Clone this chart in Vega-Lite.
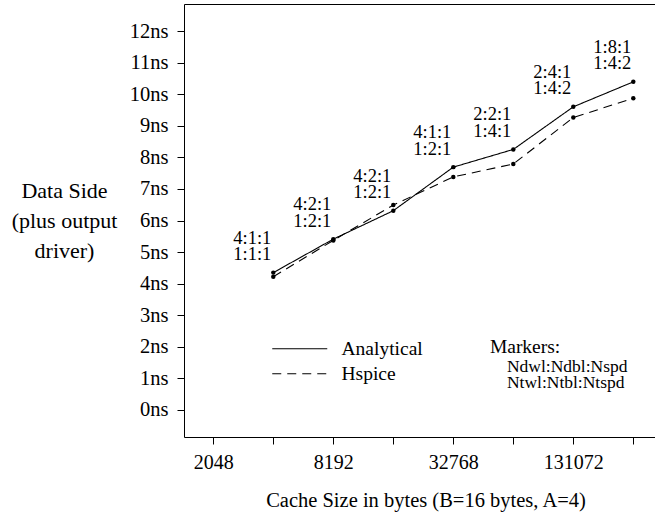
{
  "$schema": "https://vega.github.io/schema/vega-lite/v6.json",
  "width": 471,
  "height": 433,
  "autosize": {"type": "none"},
  "padding": {"left": 184, "top": 4, "right": 0, "bottom": 81},
  "background": "white",
  "config": {
    "view": {"stroke": null},
    "font": "Liberation Serif",
    "axis": {
      "domainColor": "black",
      "tickColor": "black",
      "labelColor": "black",
      "titleColor": "black",
      "labelFont": "Liberation Serif",
      "titleFont": "Liberation Serif",
      "titleFontWeight": "normal",
      "grid": false,
      "tickSize": 7
    },
    "legend": {
      "labelFont": "Liberation Serif",
      "labelColor": "black"
    }
  },
  "datasets": {
    "timing": [
      {"bytes": 4096, "series": "Analytical", "ns": 4.35},
      {"bytes": 8192, "series": "Analytical", "ns": 5.41},
      {"bytes": 16384, "series": "Analytical", "ns": 6.31},
      {"bytes": 32768, "series": "Analytical", "ns": 7.69},
      {"bytes": 65536, "series": "Analytical", "ns": 8.25},
      {"bytes": 131072, "series": "Analytical", "ns": 9.6},
      {"bytes": 262144, "series": "Analytical", "ns": 10.39},
      {"bytes": 4096, "series": "Hspice", "ns": 4.22},
      {"bytes": 8192, "series": "Hspice", "ns": 5.37},
      {"bytes": 16384, "series": "Hspice", "ns": 6.49},
      {"bytes": 32768, "series": "Hspice", "ns": 7.38},
      {"bytes": 65536, "series": "Hspice", "ns": 7.79},
      {"bytes": 131072, "series": "Hspice", "ns": 9.26},
      {"bytes": 262144, "series": "Hspice", "ns": 9.87}
    ],
    "configs": [
      {"bytes": 4096, "ns": 4.35, "cfg": "4:1:1\n1:1:1"},
      {"bytes": 8192, "ns": 5.41, "cfg": "4:2:1\n1:2:1"},
      {"bytes": 16384, "ns": 6.31, "cfg": "4:2:1\n1:2:1"},
      {"bytes": 32768, "ns": 7.69, "cfg": "4:1:1\n1:2:1"},
      {"bytes": 65536, "ns": 8.25, "cfg": "2:2:1\n1:4:1"},
      {"bytes": 131072, "ns": 9.6, "cfg": "2:4:1\n1:4:2"},
      {"bytes": 262144, "ns": 10.39, "cfg": "1:8:1\n1:4:2"}
    ],
    "markerNote": [
      {"head": "Markers:", "body": "Ndwl:Ndbl:Nspd\nNtwl:Ntbl:Ntspd"}
    ]
  },
  "layer": [
    {
      "data": {"name": "timing"},
      "mark": {"type": "line", "color": "black", "strokeWidth": 1.1},
      "encoding": {
        "x": {
          "field": "bytes",
          "type": "quantitative",
          "scale": {"type": "log", "base": 2, "domain": [1459.8, 336800], "nice": false, "zero": false},
          "axis": {
            "orient": "bottom",
            "values": [2048, 4096, 8192, 16384, 32768, 65536, 131072, 262144],
            "format": "d",
            "labelExpr": "indexof([2048, 8192, 32768, 131072], datum.value) >= 0 ? datum.label : ''",
            "labelFontSize": 20,
            "labelPadding": 8,
            "labelFlush": false,
            "labelOverlap": false,
            "title": "Cache Size in bytes (B=16 bytes, A=4)",
            "titleFontSize": 20.5,
            "titleX": 241.5,
            "titleY": 63,
            "titleAnchor": "middle",
            "titleAlign": "center",
            "titleBaseline": "middle"
          }
        },
        "y": {
          "field": "ns",
          "type": "quantitative",
          "scale": {"domain": [-0.855, 12.855], "nice": false, "zero": false},
          "axis": {
            "values": [0, 1, 2, 3, 4, 5, 6, 7, 8, 9, 10, 11, 12],
            "labelExpr": "datum.value + 'ns'",
            "labelFontSize": 20.5,
            "labelPadding": 9,
            "labelOverlap": false,
            "labelFlush": false,
            "title": ["Data Side", "(plus output", "driver)"],
            "titleFontSize": 22,
            "titleAngle": 0,
            "titleAlign": "center",
            "titleBaseline": "middle",
            "titleLineHeight": 30,
            "titleX": -120,
            "titleY": 186
          }
        },
        "strokeDash": {
          "field": "series",
          "type": "nominal",
          "scale": {"domain": ["Analytical", "Hspice"], "range": [[1, 0], [9, 6]]},
          "legend": {
            "title": null,
            "orient": "none",
            "legendX": 106,
            "legendY": 335,
            "padding": 0,
            "symbolType": "M-5.5,0H5.5",
            "symbolSize": 100,
            "symbolStrokeColor": "black",
            "symbolStrokeWidth": 1.1,
            "labelFontSize": 19.5,
            "labelOffset": 32,
            "rowPadding": 4
          }
        }
      }
    },
    {
      "data": {"name": "timing"},
      "mark": {"type": "circle", "color": "black", "size": 20, "opacity": 1},
      "encoding": {
        "x": {
          "field": "bytes",
          "type": "quantitative",
          "scale": {"type": "log", "base": 2, "domain": [1459.8, 336800], "nice": false, "zero": false},
          "axis": {"orient": "top", "domain": true, "ticks": false, "labels": false, "title": null}
        },
        "y": {"field": "ns", "type": "quantitative", "axis": null},
        "detail": {"field": "series"}
      }
    },
    {
      "data": {"name": "configs"},
      "mark": {
        "type": "text",
        "font": "Liberation Serif",
        "fontSize": 18.5,
        "lineHeight": 16.5,
        "lineBreak": "\n",
        "align": "center",
        "baseline": "middle",
        "dx": -21,
        "dy": -35,
        "color": "black"
      },
      "encoding": {
        "x": {"field": "bytes", "type": "quantitative", "axis": null},
        "y": {"field": "ns", "type": "quantitative", "axis": null},
        "text": {"field": "cfg"}
      }
    },
    {
      "data": {"name": "markerNote"},
      "mark": {
        "type": "text",
        "font": "Liberation Serif",
        "fontSize": 19.5,
        "align": "left",
        "baseline": "middle",
        "color": "black"
      },
      "encoding": {
        "x": {"datum": 50000, "type": "quantitative", "axis": null},
        "y": {"datum": 2, "type": "quantitative", "axis": null},
        "text": {"field": "head"}
      }
    },
    {
      "data": {"name": "markerNote"},
      "mark": {
        "type": "text",
        "font": "Liberation Serif",
        "fontSize": 17.5,
        "lineHeight": 16,
        "lineBreak": "\n",
        "align": "left",
        "baseline": "middle",
        "dx": 17,
        "dy": 20,
        "color": "black"
      },
      "encoding": {
        "x": {"datum": 50000, "type": "quantitative", "axis": null},
        "y": {"datum": 2, "type": "quantitative", "axis": null},
        "text": {"field": "body"}
      }
    }
  ],
  "resolve": {"axis": {"x": "independent", "y": "independent"}}
}
